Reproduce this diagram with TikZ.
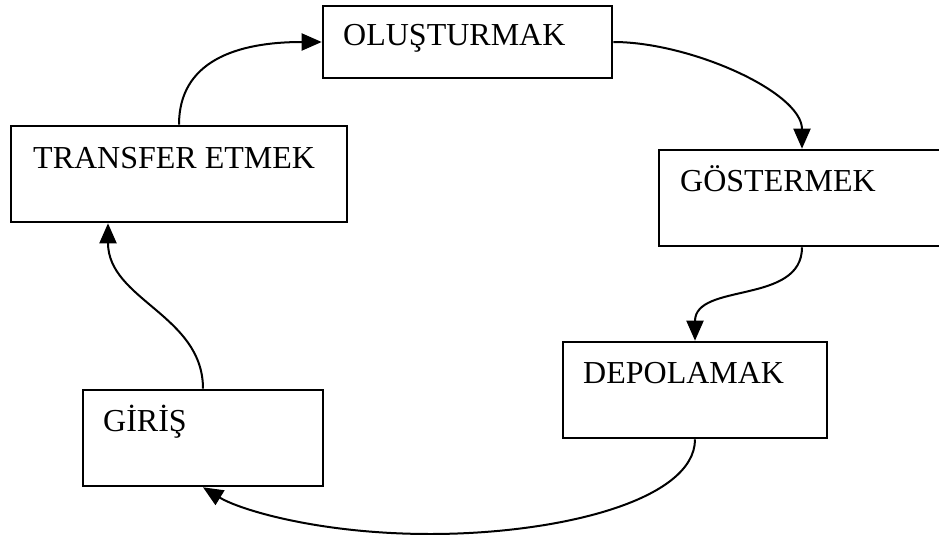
\documentclass[tikz,border=0pt]{standalone}
\usepackage{fontspec}
\setmainfont{Liberation Serif}
\usetikzlibrary{arrows.meta,calc}
\begin{document}
\begin{tikzpicture}[x=1pt,y=-1pt,
  box/.style={draw=black,line width=2.6pt,rectangle,inner sep=0pt},
  lbl/.style={inner sep=0pt,anchor=base west,font=\fontsize{32}{38}\selectfont},
  conn/.style={draw=black,line width=2pt,-{Triangle[length=20pt,width=17pt]}}]
\useasboundingbox (0,0) rectangle (939,535);
\clip (0,0) rectangle (939,535);
% boxes
\node[box,minimum width=289,minimum height=72] (os) at (467.5,42) {};
\node[box,minimum width=336,minimum height=96] (tr) at (179,174) {};
\node[box,minimum width=286,minimum height=96] (go) at (802,198) {};
\node[box,minimum width=264,minimum height=96] (de) at (695,390) {};
\node[box,minimum width=240,minimum height=96] (gi) at (203,438) {};
% labels
\node[lbl] (tos) at (343,46) {OLUŞTURMAK};
\node[lbl] (ttr) at (33,168) {TRANSFER ETMEK};
\node[lbl] (tgo) at (680,191) {GÖSTERMEK};
\node[lbl] (tde) at (583,383) {DEPOLAMAK};
\node[lbl] (tgi) at (103,431) {GİRİŞ};
% connectors
\draw[conn] (tr.north) .. controls (179,62) and (235,42) .. (os.west);
\draw[conn] (os.east) .. controls (690,42) and (802,92) .. (go.north);
\draw[conn] (go.south) .. controls (802,305) and (695,282) .. (de.north);
\draw[conn] (de.south) .. controls (695,500) and (560,534) .. (430,534)
   .. controls (320,534) and (240,510) .. (gi.south);
\draw[conn] (gi.north) .. controls (203,315) and (108,300) .. ([xshift=-71pt]tr.south);
\end{tikzpicture}
\end{document}
